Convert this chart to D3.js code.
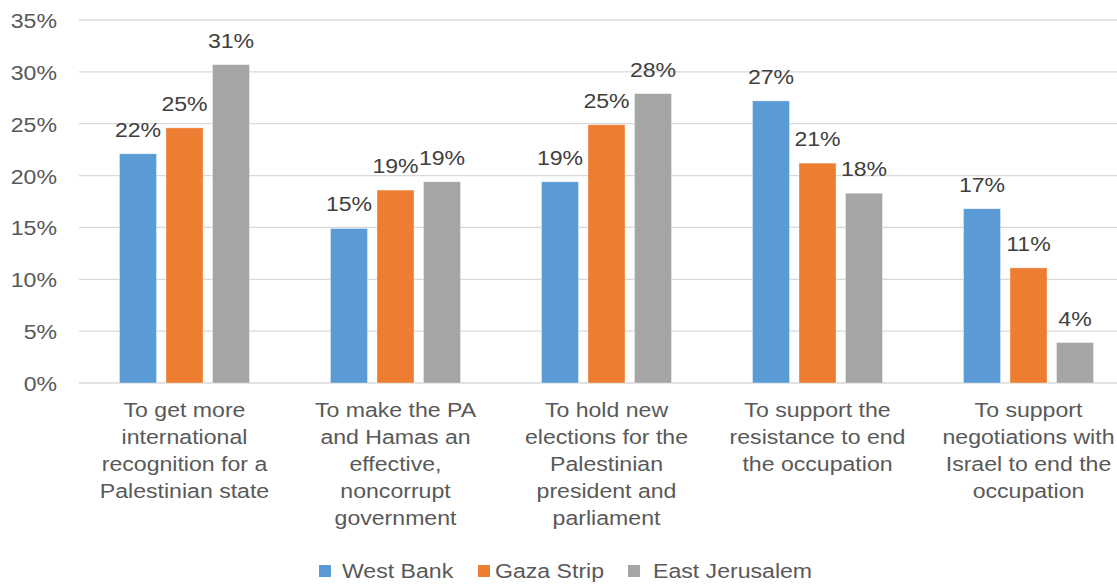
<!DOCTYPE html>
<html><head><meta charset="utf-8">
<script src="https://cdn.jsdelivr.net/npm/d3@7"></script>
<style>body{margin:0;background:#fff;} svg{display:block;font-family:"Liberation Sans",Arial,sans-serif;}</style>
</head><body>
<svg id="c" width="1117" height="584"></svg>
<script>
const categories = [
  ["To get more","international","recognition for a","Palestinian state"],
  ["To make the PA","and Hamas an","effective,","noncorrupt","government"],
  ["To hold new","elections for the","Palestinian","president and","parliament"],
  ["To support the","resistance to end","the occupation"],
  ["To support","negotiations with","Israel to end the","occupation"]
];
const seriesNames = ["West Bank","Gaza Strip","East Jerusalem"];
const westBank = [22.1, 14.9, 19.4, 27.2, 16.8];
const gazaStrip = [24.6, 18.6, 24.9, 21.2, 11.1];
const eastJerusalem = [30.7, 19.4, 27.9, 18.3, 3.9];
const yTicks = [0,5,10,15,20,25,30,35];
const colors = ["#5B9BD5","#ED7D31","#A5A5A5"];

const series = [westBank, gazaStrip, eastJerusalem];
const svg = d3.select("#c");
const SX = 1.1, FS = 21;

const x0 = d3.scaleBand().domain(d3.range(categories.length)).range([79,1134]).paddingInner(0).paddingOuter(0);
const x1 = d3.scaleBand().domain(d3.range(series.length)).range([0, x0.bandwidth()]).paddingInner(0.204).paddingOuter(0.871);
const y = d3.scaleLinear().domain([0,35]).range([383,20]);

function stext(g, x, yy, str, anchor, fill){
  return g.append("text").attr("transform",`translate(${x},${yy}) scale(${SX},1)`)
    .attr("text-anchor",anchor).attr("font-size",FS).attr("fill",fill).text(str);
}

// gridlines
svg.append("g").selectAll("line").data(yTicks).join("line")
  .attr("x1",79).attr("x2",1117).attr("y1",d=>y(d)).attr("y2",d=>y(d))
  .attr("stroke","#D9D9D9").attr("stroke-width",1.3);

// y labels
const yl = svg.append("g");
yTicks.forEach(t=>stext(yl,57,y(t)+8,t+"%","end","#595959"));

// bars
const bg = svg.append("g");
series.forEach((s,si)=>{
  s.forEach((v,ci)=>{
    const bx = x0(ci)+x1(si);
    bg.append("rect").attr("x",bx).attr("y",y(v)).attr("width",x1.bandwidth()).attr("height",y(0)-y(v))
      .attr("fill",colors[si]).attr("stroke","#fff").attr("stroke-opacity",0.5).attr("stroke-width",0.7);
    stext(bg, bx+x1.bandwidth()/2, y(v)-17, Math.round(v)+"%","middle","#404040");
  });
});

// category labels
const cl = svg.append("g");
categories.forEach((lines,ci)=>{
  const cx = x0(ci)+x0.bandwidth()/2;
  lines.forEach((ln,li)=>stext(cl,cx,417+li*27,ln,"middle","#595959"));
});

// legend
const legX = [319,478,628], legT = [342,495,653];
const lg = svg.append("g");
seriesNames.forEach((n,i)=>{
  lg.append("rect").attr("x",legX[i]).attr("y",565).attr("width",12).attr("height",12).attr("fill",colors[i]);
  stext(lg,legT[i],578,n,"start","#595959");
});
</script>
</body></html>
